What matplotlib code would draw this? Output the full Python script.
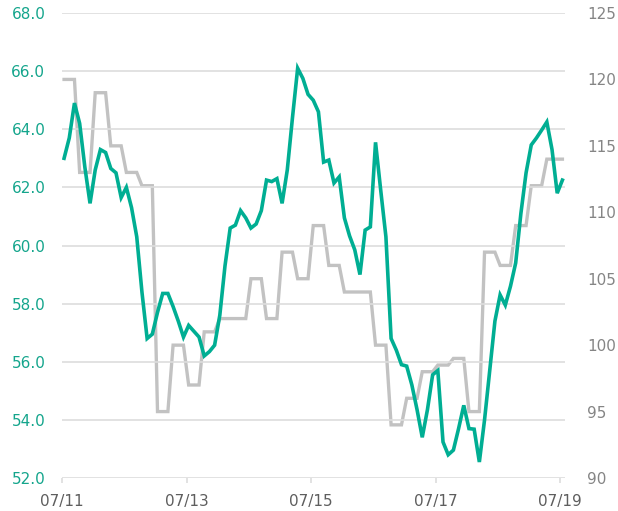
import matplotlib
matplotlib.use('Agg')
import numpy as np
import matplotlib.pyplot as plt

# monthly points, 07/2011 .. 07/2019
teal_vals = [63.0, 63.7, 64.9, 64.2, 62.7, 61.45, 62.6, 63.3, 63.2, 62.65,
             62.5, 61.65, 62.0, 61.3, 60.3, 58.4, 56.8, 56.95, 57.7, 58.35,
             58.35, 57.9, 57.4, 56.85, 57.25, 57.05, 56.85, 56.2, 56.35, 56.57,
             57.6, 59.3, 60.6, 60.7, 61.2, 60.95, 60.6, 60.74, 61.2, 62.25,
             62.2, 62.3, 61.45, 62.6, 64.4, 66.1, 65.75, 65.2, 65.0, 64.6,
             62.87, 62.94, 62.15, 62.36, 60.95, 60.33, 59.85, 59.0, 60.53, 60.64,
             63.55, 61.9, 60.3, 56.8, 56.4, 55.9, 55.85, 55.2, 54.35, 53.4,
             54.35, 55.55, 55.7, 53.24, 52.8, 52.96, 53.7, 54.5, 53.7, 53.68,
             52.55, 54.0, 55.7, 57.4, 58.3, 57.95, 58.6, 59.4, 61.1, 62.5,
             63.46, 63.7, 63.97, 64.25, 63.3, 61.8, 62.25]

gray_vals = [120, 120, 120, 113, 113, 113, 119, 119, 119, 115,
             115, 115, 113, 113, 113, 112, 112, 112, 95, 95,
             95, 100, 100, 100, 97, 97, 97, 101, 101, 101,
             102, 102, 102, 102, 102, 102, 105, 105, 105, 102,
             102, 102, 107, 107, 107, 105, 105, 105, 109, 109,
             109, 106, 106, 106, 104, 104, 104, 104, 104, 104,
             100, 100, 100, 94, 94, 94, 96, 96, 96, 98,
             98, 98, 98.5, 98.5, 98.5, 99, 99, 99, 95, 95,
             95, 107, 107, 107, 106, 106, 106, 109, 109, 109,
             112, 112, 112, 114, 114, 114, 114]

tick_pos = [0, 24, 48, 72, 96]
tick_labels = ['07/11', '07/13', '07/15', '07/17', '07/19']
left_ticks = [52, 54, 56, 58, 60, 62, 64, 66, 68]
right_ticks = [90, 95, 100, 105, 110, 115, 120, 125]

teal = '#00AE93'
light_gray = '#C2C2C2'

plt.rcParams['font.family'] = ['DejaVu Sans']

fig = plt.figure(figsize=(6.18, 5.11), dpi=100)
ax = fig.add_axes([62 / 618, 1 - 478 / 511, (565 - 62) / 618, (478 - 13) / 511])
ax2 = ax.twinx()

months = np.arange(len(teal_vals)) + 0.4

ax2.plot(months, gray_vals, color=light_gray, lw=2.4, solid_joinstyle='miter')
ax.plot(months, teal_vals, color=teal, lw=2.6, solid_joinstyle='miter')

# teal line on top of the gray one
ax.set_zorder(ax2.get_zorder() + 1)
ax.patch.set_visible(False)

ax.set_xlim(0, 96.9)
ax.set_ylim(52, 68)
ax2.set_ylim(90, 125)

ax.set_yticks(left_ticks)
ax.set_yticklabels([f'{v:.1f}' for v in left_ticks])
ax2.set_yticks(right_ticks)
ax2.set_yticklabels([str(v) for v in right_ticks])
ax.set_xticks(tick_pos)
ax.set_xticklabels(tick_labels)

ax.grid(axis='y', color='#DDDDDD', lw=1.2)
ax.set_axisbelow(True)
ax2.grid(False)

for a in (ax, ax2):
    for s in ('top', 'left', 'right', 'bottom'):
        a.spines[s].set_visible(False)

# pads are in points (px * 0.72 at 100 dpi)
ax.tick_params(axis='y', length=0, pad=12, labelsize=11, labelcolor='#14A58C')
ax2.tick_params(axis='y', length=0, pad=16, labelsize=11, labelcolor='#858585')
ax.tick_params(axis='x', length=3.6, width=1.2, color='#DDDDDD', pad=8,
               labelsize=11, labelcolor='#5E5E5E')

fig.savefig('out.png', dpi=100)
